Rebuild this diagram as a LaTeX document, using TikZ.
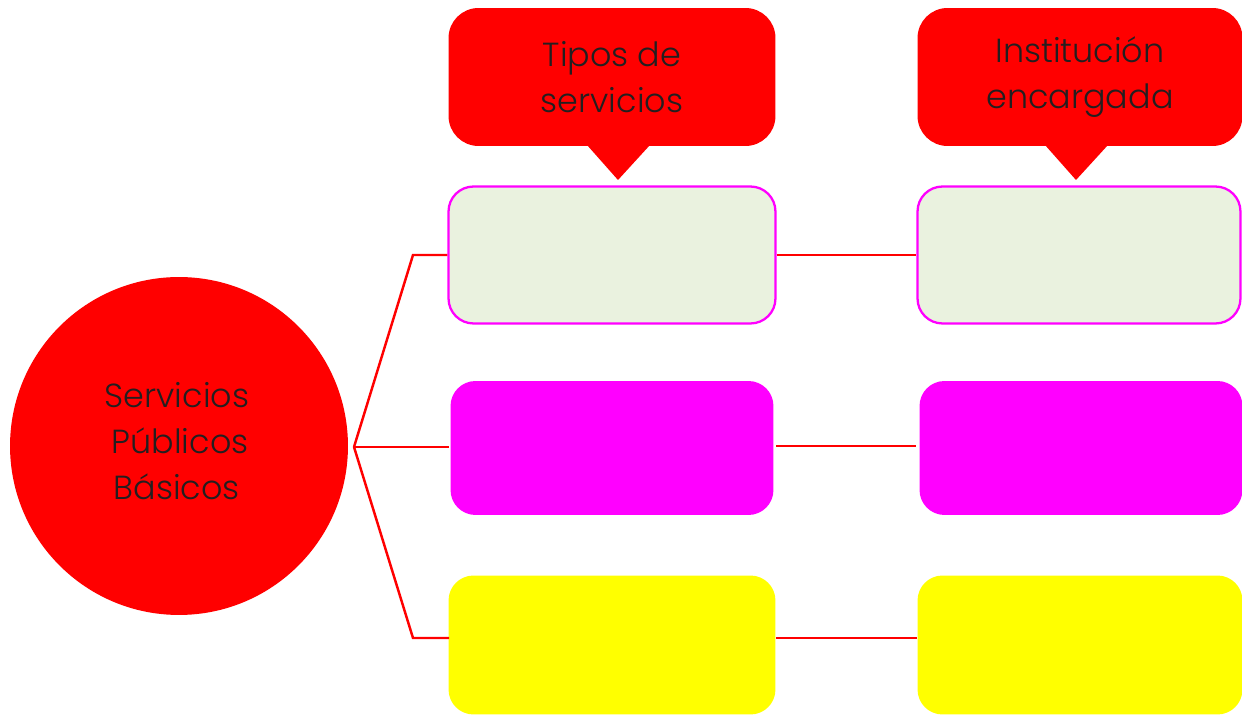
\documentclass[tikz,border=0pt]{standalone}
\usepackage{fontspec}
\setmainfont{Poppins}[UprightFont=* Light]
\usetikzlibrary{calc}
\definecolor{ink}{HTML}{231F20}
\definecolor{pale}{HTML}{EAF2DF}
\definecolor{pink}{HTML}{FF00FF}
\definecolor{lemon}{HTML}{FFFF00}

\begin{document}
\begin{tikzpicture}[
        x=0.02cm, y=-0.02cm,
        every node/.style={text=ink, font=\fontsize{19}{26}\selectfont, align=center},
        link/.style={draw=red, line width=1.4pt},
        bubble/.style={rectangle, fill=red, rounded corners=0.6cm, minimum width=6.54cm, minimum height=2.76cm},
        slot/.style={rectangle, rounded corners=0.5cm, minimum width=6.54cm, minimum height=2.74cm}
    ]

    \tikzset{
    greenslot/.style={slot, fill=pale, draw=pink, line width=1.3pt},
    pinkslot/.style={slot, fill=pink, minimum width=6.46cm, minimum height=2.68cm},
    yellowslot/.style={slot, fill=lemon, minimum width=6.54cm, minimum height=2.78cm}
}

    \useasboundingbox (0,0) rectangle (1242,715);

    % hub
    \node (hub) [circle, fill=red, minimum size=6.76cm] at (179,446) {};
    \node (hubtext) [align=left] at (177,441) {Servicios\\\hspace{4pt}Públicos\\\hspace{5pt}Básicos};

    % headers
    \node (tipos) [bubble] at (612,77) {Tipos de\\servicios};
    \node (inst) [bubble, minimum width=6.5cm] at (1080,77) {Institución\\encargada};
    \coordinate (tiposTip) at (618,180);
    \coordinate (instTip) at (1076,180);
    \fill[red] (587,145) -- (tiposTip) -- (650,145) -- cycle;
    \fill[red] (1045,145) -- (instTip) -- (1108,145) -- cycle;

    % boxes
    \node (svc1) [greenslot] at (612,255) {};
    \node (svc2) [pinkslot] at (612,448) {};
    \node (svc3) [yellowslot] at (612,645) {};
    \node (org1) [greenslot, minimum width=6.46cm] at (1079,255) {};
    \node (org2) [pinkslot, minimum width=6.46cm] at (1081,448) {};
    \node (org3) [yellowslot, minimum width=6.5cm] at (1080,645) {};

    % connectors
    \coordinate (fork) at (354,447);
    \coordinate (bendA) at (413,255);
    \coordinate (bendC) at (413,638);
    \draw[link] (fork) -- (bendA) -- (svc1.west);
    \draw[link] (fork) -- (449,447);
    \draw[link] (fork) -- (bendC) -- (449,638);

    \draw[link] (svc1) -- (org1);
    \draw[link] (776,446) -- (916,446);
    \draw[link] (776,638) -- (917,638);
\end{tikzpicture}
\end{document}
